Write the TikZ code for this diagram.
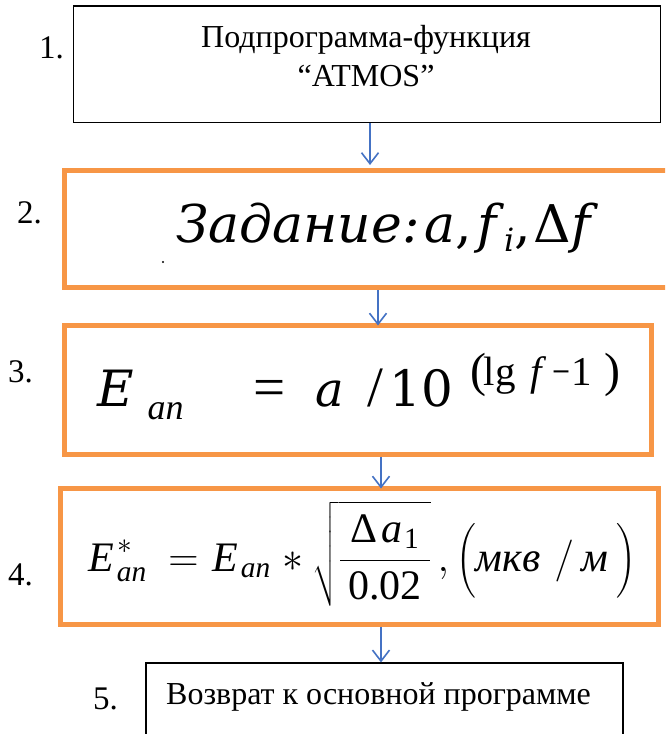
\RequirePackage{fix-cm}
\documentclass[tikz,border=0pt]{standalone}
\usepackage{graphicx}
\usepackage{amsmath}
\usepackage{fontspec}
\setmainfont{Liberation Serif}
\newfontfamily\fmlfont{DejaVu Serif}
\newcommand{\putat}[3]{\rlap{\hspace{#1}\raisebox{#2}{#3}}}
\newcommand{\fitw}[2]{\resizebox{#1}{\height}{#2}}
\usetikzlibrary{arrows.meta}
\definecolor{boxorange}{RGB}{247,150,70}
\definecolor{arrowblue}{RGB}{68,114,196}
\begin{document}
\begin{tikzpicture}[x=1pt,y=-1pt,
  plainbox/.style={draw=black,line width=1.8pt,inner sep=0pt},
  orangebox/.style={draw=boxorange,line width=5pt,inner sep=0pt},
  numlabel/.style={anchor=base west,inner sep=0pt,font=\fontsize{33}{36}\selectfont},
  txt/.style={anchor=base,inner sep=0pt,font=\fontsize{32}{36}\selectfont},
  fml/.style={anchor=base west,inner sep=0pt},
  arr/.style={draw=arrowblue,line width=1.6pt,-{Straight Barb[length=11pt,width=17pt,line width=1.6pt]}}]
\clip (0,0) rectangle (665,734);
\fill[white] (0,0) rectangle (665,734);
% boxes
\node[plainbox,minimum width=587pt,minimum height=116.5pt] (b1) at (367,64.25) {};
\node[orangebox,minimum width=603.5pt,minimum height=117pt] (b2) at (366.25,229) {};
\node[orangebox,minimum width=586.5pt,minimum height=128.5pt] (b3) at (357.75,389.75) {};
\node[orangebox,minimum width=597.5pt,minimum height=135.5pt] (b4) at (359.25,556.25) {};
\node[plainbox,minimum width=477.3pt,minimum height=106.7pt] (b5) at (384.35,716.65) {};
% arrow columns
\coordinate (ax1) at (370,0);
\coordinate (ax2) at (378,0);
\coordinate (ax3) at (381,0);
\coordinate (ax4) at (381,0);
\draw[arr,shorten >=3pt] (b1.south -| ax1) -- (b2.north -| ax1);
\draw[arr,shorten >=-2.5pt] (b2.south -| ax2) -- (b3.north -| ax2);
\draw[arr,shorten >=-2.5pt] (b3.south -| ax3) -- (b4.north -| ax3);
\draw[arr] (b4.south -| ax4) -- (b5.north -| ax4);
% labels
\node[numlabel] (n1) at (39,58) {1.};
\node[numlabel] (n2) at (17,223) {2.};
\node[numlabel] (n3) at (8,382) {3.};
\node[numlabel] (n4) at (8,585) {4.};
\node[numlabel] (n5) at (93,709) {5.};
% box 1 text
\node[txt] (t1a) at (366,47) {Подпрограмма-функция};
\node[txt] (t1b) at (366,86) {“ATMOS”};
% box 2 formula
\node[fml] (f2) at (176,242) {\fmlfont\fontsize{52}{56}\selectfont\textit{Задание:}\hspace{5pt}\textit{a},\hspace{5pt}\textit{f}\raisebox{-9pt}{\fontsize{32}{32}\selectfont\textit{i}},\hspace{3pt}Δ\textit{f}};
\fill (163,262) circle (1.2pt);
% box 3 formula
\node[fml] (f3) at (97,406) {%
\putat{0pt}{0pt}{\fmlfont\fontsize{50}{54}\selectfont\textit{E}}%
\putat{50pt}{-13pt}{\fontsize{36}{36}\selectfont\textit{an}}%
\putat{156pt}{0pt}{\fontsize{57}{60}\selectfont =}%
\putat{218pt}{0pt}{\fmlfont\fontsize{48}{54}\selectfont\textit{a}}%
\putat{270pt}{0pt}{\fontsize{57}{60}\selectfont /}%
\putat{292pt}{0pt}{\fmlfont\fontsize{50}{54}\selectfont 10}%
\putat{373pt}{19.5pt}{\fontsize{48}{48}\selectfont (}%
\putat{386pt}{21pt}{\fontsize{41}{41}\selectfont lg}%
\putat{433pt}{21pt}{\fontsize{41}{41}\selectfont\textit{f}}%
\putat{455pt}{21pt}{\fontsize{41}{41}\selectfont\fitw{18pt}{−}}%
\putat{474pt}{21pt}{\fontsize{41}{41}\selectfont 1}%
\putat{507pt}{19.5pt}{\fontsize{48}{48}\selectfont )}%
\hspace{522pt}};
% box 4 formula
\node[fml] (f4) at (88,571) {\fontsize{42}{48}\selectfont$\displaystyle
\textit{E}^{\hspace{4pt}\ast}_{\hspace{3pt}\textit{an}}\hspace{10pt}=\hspace{2pt}\textit{E}_{\hspace{3pt}\textit{an}}\hspace{2pt}\ast\hspace{0pt}\sqrt{\dfrac{\text{Δ}\hspace{4pt}\textit{a}_{\hspace{2pt}\text{1}}}{\hspace{8pt}\text{0.02}\hspace{8pt}}}\,,\Bigl(\textit{мкв}\hspace{14pt}/\hspace{8pt}\textit{м}\hspace{8pt}\Bigr)$};
% box 5 text
\node[txt,anchor=base west] (t5) at (166,704) {Возврат к основной программе};
\end{tikzpicture}
\end{document}
